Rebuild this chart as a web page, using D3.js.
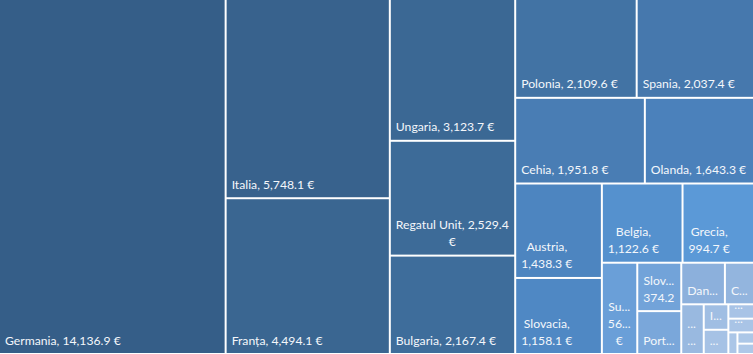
<!DOCTYPE html>
<html>
<head>
<meta charset="utf-8">
<script src="https://cdn.jsdelivr.net/npm/d3@7"></script>
<style>
  body { margin: 0; background: #fff; }
  #chart svg { display: block; }
</style>
</head>
<body>
<div id="chart"></div>
<script>
// Data (small ones are estimates, their labels are cut)
const countries = ["Germania", "Italia", "Franța", "Ungaria", "Regatul Unit", "Bulgaria",
  "Polonia", "Spania", "Cehia", "Olanda", "Austria", "Slovacia", "Belgia", "Grecia",
  "Suedia", "Slovenia", "Portugalia", "Danemarca", "Croația", "Finlanda",
  "Irlanda", "Lituania", "Letonia", "Estonia", "Luxemburg", "Cipru", "Malta"];
const amounts = [14136.9, 5748.1, 4494.1, 3123.7, 2529.4, 2167.4,
  2109.6, 2037.4, 1951.8, 1643.3, 1438.3, 1158.1, 1122.6, 994.7,
  567.8, 374.2, 331.5, 318.9, 212.6, 196.3,
  110.2, 104.8, 64.7, 61.9, 34.5, 32.8, 30.1];

const width = 753;
const height = 354;
const fontSize = 12.2;
const fontFamily = "Lato, 'Open Sans', sans-serif";

// shades, darkest for the biggest value
const color = d3.scaleLinear()
  .domain([0, 2, 5, 7, 9, 11, 13, 14, 16, 17, 19, 21, 26])
  .range(["#355e88", "#3a6691", "#3e6d9b", "#4678ad", "#4b81bb", "#4f88c4", "#5b99d7",
          "#6a9fd8", "#7aa7da", "#8cb0dc", "#99b9e0", "#a6c2e5", "#aec8e8"]);

// squarify like d3's own, but d3 clamps ratio to >= 1 and the office layout
// behaves more like a ratio a bit under 1
function squarifyTile(ratio) {
  return function(parent, x0, y0, x1, y1) {
    const nodes = parent.children;
    const n = nodes.length;
    let value = parent.value;
    let i0 = 0, i1 = 0;
    while (i0 < n) {
      const dx = x1 - x0, dy = y1 - y0;
      let sumValue = nodes[i1++].value;
      let minValue = sumValue, maxValue = sumValue;
      const alpha = Math.max(dy / dx, dx / dy) / (value * ratio);
      let beta = sumValue * sumValue * alpha;
      let minRatio = Math.max(maxValue / beta, beta / minValue);
      for (; i1 < n; ++i1) {
        const v = nodes[i1].value;
        sumValue += v;
        if (v < minValue) minValue = v;
        if (v > maxValue) maxValue = v;
        beta = sumValue * sumValue * alpha;
        const newRatio = Math.max(maxValue / beta, beta / minValue);
        if (newRatio > minRatio) { sumValue -= v; break; }
        minRatio = newRatio;
      }
      const row = {value: sumValue, children: nodes.slice(i0, i1)};
      if (dx < dy) d3.treemapDice(row, x0, y0, x1, value ? y0 += dy * sumValue / value : y1);
      else d3.treemapSlice(row, x0, y0, value ? x0 += dx * sumValue / value : x1, y1);
      value -= sumValue;
      i0 = i1;
    }
  };
}

const svg = d3.select("#chart")
  .append("svg")
  .attr("width", width)
  .attr("height", height);

const root = d3.hierarchy({children: countries.map((c, i) => ({name: c, value: amounts[i], idx: i}))})
  .sum(d => d.value || 0)
  .sort((a, b) => b.value - a.value);

// 1px white strip left at the bottom like the original
d3.treemap()
  .tile(squarifyTile(0.775))
  .size([width, height - 1])
  .paddingInner(2)(root);

const fmt = d3.format(",.1f");

const cell = svg.selectAll("g.cell")
  .data(root.leaves())
  .join("g")
  .attr("class", "cell");

cell.append("rect")
  .attr("x", d => d.x0)
  .attr("y", d => d.y0)
  .attr("width", d => d.x1 - d.x0)
  .attr("height", d => d.y1 - d.y0)
  .attr("fill", d => color(d.data.idx));

// measuring helper
const probe = svg.append("text")
  .attr("font-family", fontFamily)
  .attr("font-size", fontSize)
  .attr("visibility", "hidden");
function textW(s) {
  probe.text(s);
  return probe.node().getComputedTextLength();
}
function cut(word, avail) {
  if (textW(word) <= avail) return word;
  for (let k = word.length - 1; k > 0; k--) {
    const s = word.slice(0, k) + "...";
    if (textW(s) <= avail) return s;
  }
  return textW("...") <= avail ? "..." : "";
}

const lineH = 17;
cell.each(function(d) {
  const w = d.x1 - d.x0;
  const h = d.y1 - d.y0;
  const avail = w - 9;
  if (h < 10) return;
  const words = (d.data.name + ", " + fmt(d.data.value) + " €").split(" ");
  let lines = [];
  let cur = "";
  words.forEach(wd => {
    const test = cur ? cur + " " + wd : wd;
    if (textW(test) <= avail) {
      cur = test;
    } else {
      if (cur) lines.push(cur);
      if (textW(wd) <= avail) cur = wd;
      else { lines.push(cut(wd, avail)); cur = ""; }
    }
  });
  if (cur) lines.push(cur);
  lines = lines.filter(l => l);
  const maxLines = Math.max(1, Math.floor((h - 10) / lineH));
  lines = lines.slice(0, maxLines);
  if (!lines.length) return;

  const blockW = d3.max(lines, l => textW(l));
  const cx = d.x0 + 5 + blockW / 2;
  const base = d.y1 - 8.5;

  d3.select(this).append("text")
    .attr("font-family", fontFamily)
    .attr("font-size", fontSize)
    .attr("fill", "#f4f7fb")
    .attr("text-anchor", "middle")
    .selectAll("tspan")
    .data(lines)
    .join("tspan")
    .attr("x", cx)
    .attr("y", (l, i) => base - (lines.length - 1 - i) * lineH)
    .text(l => l);
});

probe.remove();
</script>
</body>
</html>
